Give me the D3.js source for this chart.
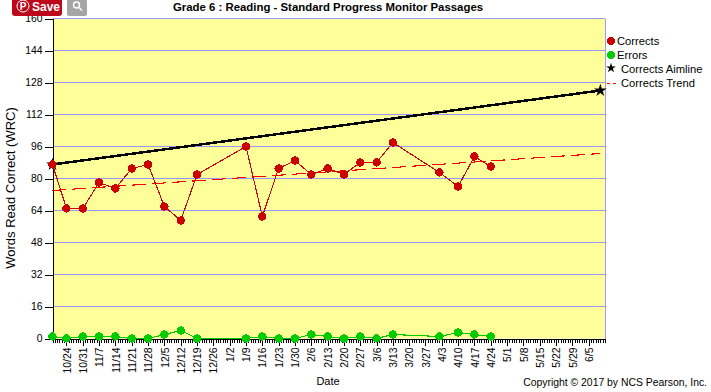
<!DOCTYPE html>
<html lang="en">
<head>
<meta charset="UTF-8">
<title>Grade 6 : Reading</title>
<style>
    html, body { margin: 0; padding: 0; background: #fff; }
    svg { display: block; }
    text { font-family: "Liberation Sans", Arial, sans-serif; fill: #000; }
</style>
</head>
<body>
<script src="https://d3js.org/d3.v7.min.js"></script>
<script>
const dates = ['2016-10-18','2016-10-24','2016-10-31','2016-11-07','2016-11-14','2016-11-21','2016-11-28','2016-12-05','2016-12-12','2016-12-19','2017-01-09','2017-01-16','2017-01-23','2017-01-30','2017-02-06','2017-02-13','2017-02-20','2017-02-27','2017-03-06','2017-03-13','2017-04-02','2017-04-10','2017-04-17','2017-04-24']
const corrects = [87,65,65,78,75,85,87,66,59,82,96,61,85,89,82,85,82,88,88,98,83,76,91,86]
const errors = [1,0,1,1,1,0,0,2,4,0,0,1,0,0,2,1,0,1,0,2,1,3,2,1]
const aimDates = ['2016-10-18','2017-06-10']
const aimline = [87,124]
const trendDates = ['2016-10-18','2017-06-10']
const trend = [74,92.5]
const yTicks = [0,16,32,48,64,80,96,112,128,144,160]
const xTickLabels = ['10/24','10/31','11/7','11/14','11/21','11/28','12/5','12/12','12/19','12/26','1/2','1/9','1/16','1/23','1/30','2/6','2/13','2/20','2/27','3/6','3/13','3/20','3/27','4/3','4/10','4/17','4/24','5/1','5/8','5/15','5/22','5/29','6/5']
const legendNames = ['Corrects','Errors','Corrects Aimline','Corrects Trend']

const width = 711
const height = 392
const plotLeft = 52.5, plotRight = 605, plotTop = 18.5, plotBottom = 338.5
const red = '#cc0000', green = '#00cc00', grid = '#9999ff'

const parse = d3.utcParse('%Y-%m-%d')
const x = d3.scaleUtc().domain([parse('2016-10-18'), parse('2017-06-12')]).range([plotLeft, plotRight])
const y = d3.scaleLinear().domain([0, 160]).range([plotBottom, plotTop])

const svg = d3.select('body').append('svg').attr('width', width).attr('height', height)

// plot background
svg.append('rect').attr('x', plotLeft).attr('y', plotTop).attr('width', plotRight - plotLeft).attr('height', plotBottom - plotTop).attr('fill', '#ffff99')

// grid lines
svg.append('g').selectAll('line').data(yTicks.filter(d => d > 0)).join('line')
    .attr('x1', plotLeft).attr('x2', plotRight)
    .attr('y1', d => y(d)).attr('y2', d => y(d))
    .attr('stroke', grid).attr('shape-rendering', 'crispEdges')
svg.append('line').attr('x1', plotRight).attr('x2', plotRight).attr('y1', plotTop).attr('y2', plotBottom)
    .attr('stroke', grid).attr('shape-rendering', 'crispEdges')

// axes
const yAxis = svg.append('g').attr('transform', `translate(${plotLeft},0)`)
    .call(d3.axisLeft(y).tickValues(yTicks).tickSize(8).tickPadding(2).tickSizeOuter(0))
const majorDates = xTickLabels.map((_, i) => d3.utcDay.offset(parse('2016-10-24'), i * 7))
const minorAxis = svg.append('g').attr('transform', `translate(0,${plotBottom})`)
    .call(d3.axisBottom(x).ticks(d3.utcDay.every(1)).tickSize(4).tickFormat('').tickSizeOuter(0))
const xAxis = svg.append('g').attr('transform', `translate(0,${plotBottom})`)
    .call(d3.axisBottom(x).tickValues(majorDates).tickSize(7).tickSizeOuter(0).tickFormat((d, i) => xTickLabels[i]))
xAxis.selectAll('text')
    .attr('transform', 'rotate(-90)')
    .attr('x', -9).attr('y', 0).attr('dy', '0.35em')
    .attr('text-anchor', 'end')
for (const a of [yAxis, minorAxis, xAxis]) {
    a.selectAll('line, path').attr('stroke', '#000').attr('shape-rendering', 'crispEdges')
    a.attr('font-family', null).attr('font-size', 10.4)
}

const rows = dates.map((d, i) => ({ date: parse(d), corrects: corrects[i], errors: errors[i] }))
const line = key => d3.line().x(d => x(d.date)).y(d => y(d[key]))

// aimline + trend
const aimRows = aimDates.map((d, i) => ({ date: parse(d), v: aimline[i] }))
const trendRows = trendDates.map((d, i) => ({ date: parse(d), v: trend[i] }))
svg.append('path').attr('d', line('v')(aimRows)).attr('fill', 'none').attr('stroke', '#000').attr('stroke-width', 2.5).attr('shape-rendering', 'crispEdges')
svg.append('path').attr('d', line('v')(trendRows)).attr('fill', 'none').attr('stroke', '#ff0000').attr('stroke-width', 1.1).attr('stroke-dasharray', '14 6').attr('shape-rendering', 'crispEdges')

const star = d3.symbol().type(d3.symbolStar)
aimRows.forEach(d => {
    svg.append('path').attr('d', star.size(50)())
        .attr('transform', `translate(${x(d.date)},${y(d.v)})`)
})

// data series
for (const s of [{ key: 'corrects', color: red }, { key: 'errors', color: green }]) {
    svg.append('path').attr('d', line(s.key)(rows)).attr('fill', 'none').attr('stroke', s.color).attr('stroke-width', 1.1).attr('shape-rendering', 'crispEdges')
    svg.append('g').selectAll('circle').data(rows).join('circle')
        .attr('cx', d => x(d.date)).attr('cy', d => y(d[s.key])).attr('r', 4.2)
        .attr('fill', s.color).attr('shape-rendering', 'crispEdges')
}

// titles
svg.append('text').attr('x', 328).attr('y', 11).attr('text-anchor', 'middle')
    .attr('font-size', 11.4).attr('font-weight', 'bold').text('Grade 6 : Reading - Standard Progress Monitor Passages')
svg.append('text').attr('transform', 'translate(15,188) rotate(-90)').attr('text-anchor', 'middle')
    .attr('font-size', 13).text('Words Read Correct (WRC)')
svg.append('text').attr('x', 328).attr('y', 385).attr('text-anchor', 'middle').attr('font-size', 11).text('Date')
svg.append('text').attr('x', 707).attr('y', 386).attr('text-anchor', 'end').attr('font-size', 10.4).text('Copyright © 2017 by NCS Pearson, Inc.')

// legend
const legendY = d3.scalePoint().domain(legendNames).range([41, 83])
svg.append('circle').attr('cx', 611).attr('cy', legendY(legendNames[0])).attr('r', 4).attr('fill', red).attr('shape-rendering', 'crispEdges')
svg.append('circle').attr('cx', 611).attr('cy', legendY(legendNames[1])).attr('r', 4).attr('fill', green).attr('shape-rendering', 'crispEdges')
svg.append('path').attr('d', star.size(30)()).attr('transform', `translate(611,${legendY(legendNames[2]) - 1})`)
svg.append('line').attr('x1', 607).attr('x2', 616).attr('y1', legendY(legendNames[3])).attr('y2', legendY(legendNames[3]))
    .attr('stroke', '#ff0000').attr('stroke-dasharray', '3 3').attr('shape-rendering', 'crispEdges')
svg.append('g').selectAll('text').data(legendNames).join('text')
    .attr('x', (d, i) => i < 2 ? 617 : 621)
    .attr('y', d => legendY(d)).attr('dy', '0.35em')
    .attr('font-size', 11.2).text(d => d)

// pinterest save + lens buttons
const btn = svg.append('g')
btn.append('rect').attr('x', 12).attr('y', -4).attr('width', 50).attr('height', 20).attr('rx', 3).attr('fill', '#bd081c')
btn.append('circle').attr('cx', 23).attr('cy', 6).attr('r', 6).attr('fill', 'none').attr('stroke', '#fff').attr('stroke-width', 1)
btn.append('text').attr('x', 23).attr('y', 10).attr('text-anchor', 'middle').attr('font-size', 10).attr('font-weight', 'bold').style('fill', '#fff').text('P')
btn.append('text').attr('x', 32).attr('y', 11).attr('font-size', 12).attr('font-weight', 'bold').style('fill', '#fff').text('Save')
btn.append('rect').attr('x', 67).attr('y', -4).attr('width', 20).attr('height', 20).attr('rx', 2).attr('fill', '#a5a5a5')
btn.append('circle').attr('cx', 76.5).attr('cy', 5).attr('r', 3).attr('fill', 'none').attr('stroke', '#fff').attr('stroke-width', 1.5)
btn.append('line').attr('x1', 79).attr('y1', 7.5).attr('x2', 82).attr('y2', 10.5).attr('stroke', '#fff').attr('stroke-width', 1.5)
</script>
</body>
</html>
